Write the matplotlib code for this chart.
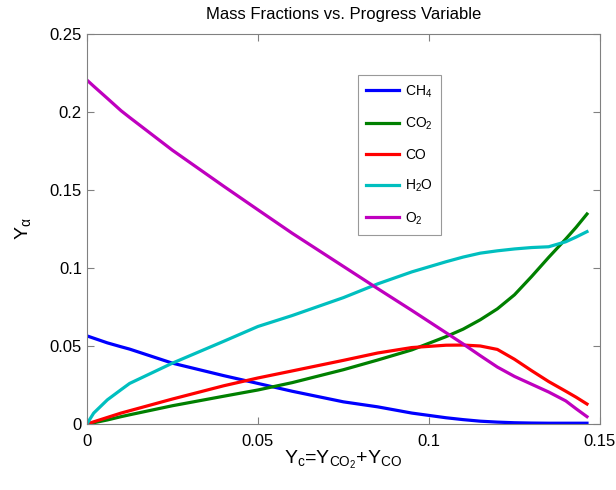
import numpy as np
import matplotlib
matplotlib.use('Agg')
from matplotlib import pyplot as plt

plt.rcParams['font.family'] = ['Liberation Sans', 'DejaVu Sans']
plt.rcParams['mathtext.default'] = 'regular'

# progress variable samples
yc = [0.0, 0.002, 0.006, 0.01, 0.0125, 0.025, 0.04, 0.05, 0.06, 0.075, 0.085,
      0.095, 0.105, 0.11, 0.115, 0.12, 0.125, 0.13, 0.135, 0.14, 0.143, 0.1462]

ch4 = [0.0565, 0.055, 0.052, 0.0495, 0.048, 0.039, 0.031, 0.026, 0.021, 0.0142, 0.011,
       0.007, 0.004, 0.0028, 0.0018, 0.0012, 0.0008, 0.0006, 0.0005, 0.0005, 0.0005, 0.0005]
co2 = [0.0, 0.0008, 0.0026, 0.0047, 0.0059, 0.0117, 0.0178, 0.0218, 0.0265, 0.0348, 0.041,
       0.0475, 0.056, 0.0608, 0.0668, 0.0738, 0.0828, 0.0945, 0.1068, 0.1186, 0.126, 0.1346]
co = [0.0, 0.0014, 0.0042, 0.007, 0.0085, 0.016, 0.0245, 0.0295, 0.034, 0.0408, 0.0455,
      0.049, 0.0505, 0.0506, 0.050, 0.0478, 0.0415, 0.0342, 0.0272, 0.021, 0.0172, 0.0128]
h2o = [0.0, 0.007, 0.0155, 0.022, 0.026, 0.039, 0.053, 0.0625, 0.0695, 0.081, 0.0898,
       0.0975, 0.104, 0.107, 0.1095, 0.111, 0.1122, 0.1131, 0.1136, 0.1168, 0.1198, 0.1233]
o2 = [0.2205, 0.2165, 0.2087, 0.2008, 0.1965, 0.1755, 0.1524, 0.1373, 0.1223, 0.101, 0.0868,
      0.0728, 0.0585, 0.0513, 0.0438, 0.0365, 0.0305, 0.0255, 0.0205, 0.0148, 0.0098, 0.0047]

names = ['CH$_4$', 'CO$_2$', 'CO', 'H$_2$O', 'O$_2$']
colors = ['#0000ff', '#008000', '#ff0000', '#00bfbf', '#bf00bf']

fig = plt.figure(figsize=(6.16, 4.9), dpi=100)
ax = fig.add_axes([0.141, 0.1347, 0.833, 0.796])

for ys, nm, c in zip([ch4, co2, co, h2o, o2], names, colors):
    ax.plot(yc, ys, color=c, lw=2.3, label=nm, solid_joinstyle='round')

ax.set_xlim(0, 0.15)
ax.set_ylim(0, 0.25)
ax.set_xticks([0, 0.05, 0.1, 0.15])
ax.set_xticklabels(['0', '0.05', '0.1', '0.15'])
ax.set_yticks([0, 0.05, 0.1, 0.15, 0.2, 0.25])
ax.set_yticklabels(['0', '0.05', '0.1', '0.15', '0.2', '0.25'])
ax.tick_params(direction='in', length=5, labelsize=12, color='#808080', top=True, right=True)
ax.tick_params(axis='x', pad=7)
for s in ax.spines.values():
    s.set_color('#808080')

ax.set_title('Mass Fractions vs. Progress Variable', fontsize=12, pad=11)
ax.set_xlabel('$Y_c$=$Y_{CO_2}$+$Y_{CO}$', fontsize=14, labelpad=0)
ax.set_ylabel('$Y_\\alpha$', fontsize=14, labelpad=12)

leg = ax.legend(loc='upper left', bbox_to_anchor=(0.528, 0.895), fontsize=10, frameon=True,
                fancybox=False, edgecolor='#808080', handlelength=2.4, handletextpad=0.4,
                labelspacing=1.15, borderpad=0.6, borderaxespad=0)
leg.get_frame().set_linewidth(0.8)

fig.savefig('out.png', dpi=100)
